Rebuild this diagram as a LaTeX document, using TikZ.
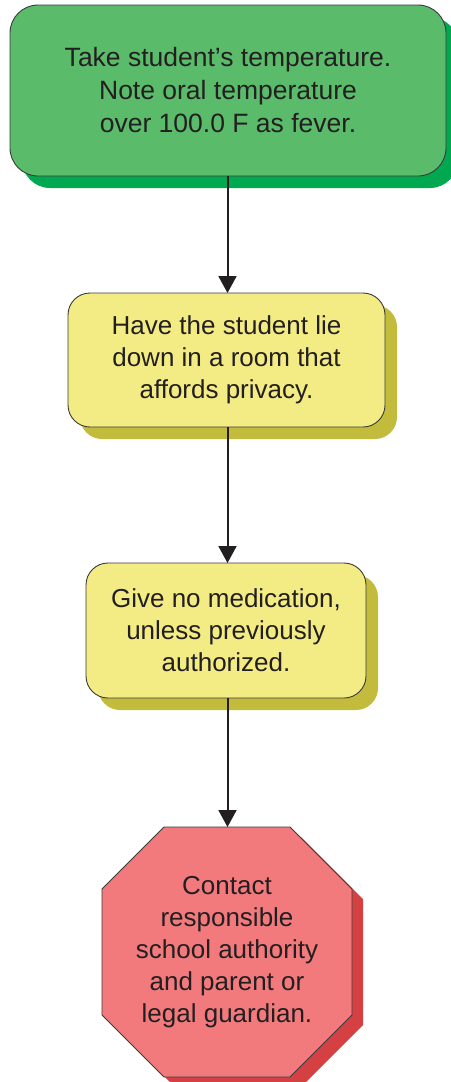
\documentclass[tikz,border=0pt]{standalone}
\usepackage{fontspec}
\setmainfont{Liberation Sans}
\usetikzlibrary{arrows.meta,shadows}
\definecolor{gfill}{HTML}{5ABB6A}
\definecolor{gshadow}{HTML}{00A94F}
\definecolor{yfill}{HTML}{F3EC84}
\definecolor{yshadow}{HTML}{C3BB3C}
\definecolor{rfill}{HTML}{F27A7D}
\definecolor{rshadow}{HTML}{D54043}
\definecolor{edge}{HTML}{3A3A3A}
\definecolor{txt}{HTML}{231F20}
\tikzset{
  box/.style={draw=edge, line width=0.9pt, inner sep=0pt, outer sep=0pt, align=center,
    text=txt, font=\fontsize{26}{32}\selectfont},
  greenbox/.style={box, fill=gfill, rounded corners=28pt, font=\fontsize{26.5}{33}\selectfont,
    general shadow={fill=gshadow, draw=none, shadow xshift=12pt, shadow yshift=-12pt}},
  yellowbox/.style={box, fill=yfill, rounded corners=22pt,
    general shadow={fill=yshadow, draw=none, shadow xshift=12pt, shadow yshift=-12pt}},
  stopshape/.style={draw=edge, line width=0.9pt, fill=rfill,
    general shadow={fill=rshadow, draw=none, shadow xshift=11pt, shadow yshift=-10pt}},
  stoptext/.style={inner sep=0pt, align=center, text=txt, font=\fontsize{26}{32}\selectfont},
  arr/.style={draw=txt, line width=2pt, -{Triangle[length=17pt,width=18pt]}}
}
\begin{document}
\begin{tikzpicture}[x=1pt,y=-1pt]
\useasboundingbox (0,0) rectangle (450,1082);
\node[greenbox, minimum width=436pt, minimum height=171pt] (g) at (228,90.5)
  {Take student’s temperature.\\Note oral temperature\\over 100.0 F as fever.};
\node[yellowbox, minimum width=317pt, minimum height=134pt] (y1) at (226.5,360)
  {Have the student lie\\down in a room that\\affords privacy.};
\node[yellowbox, minimum width=280pt, minimum height=135pt] (y2) at (226,630.5)
  {Give no medication,\\unless previously\\authorized.};
\path[stopshape] (164,827) -- (290,827) -- (352,889) -- (352,1015) -- (290,1077)
  -- (164,1077) -- (102,1015) -- (102,889) -- cycle;
\node[stoptext] (r) at (227,952)
  {Contact\\responsible\\school authority\\and parent or\\legal guardian.};
\coordinate (rtop) at (227,827);
\coordinate (ax) at (227.5,0);
\draw[arr] (g.south -| ax) -- (y1.north -| ax);
\draw[arr] (y1.south -| ax) -- (y2.north -| ax);
\draw[arr] (y2.south -| ax) -- (rtop -| ax);
\end{tikzpicture}
\end{document}
